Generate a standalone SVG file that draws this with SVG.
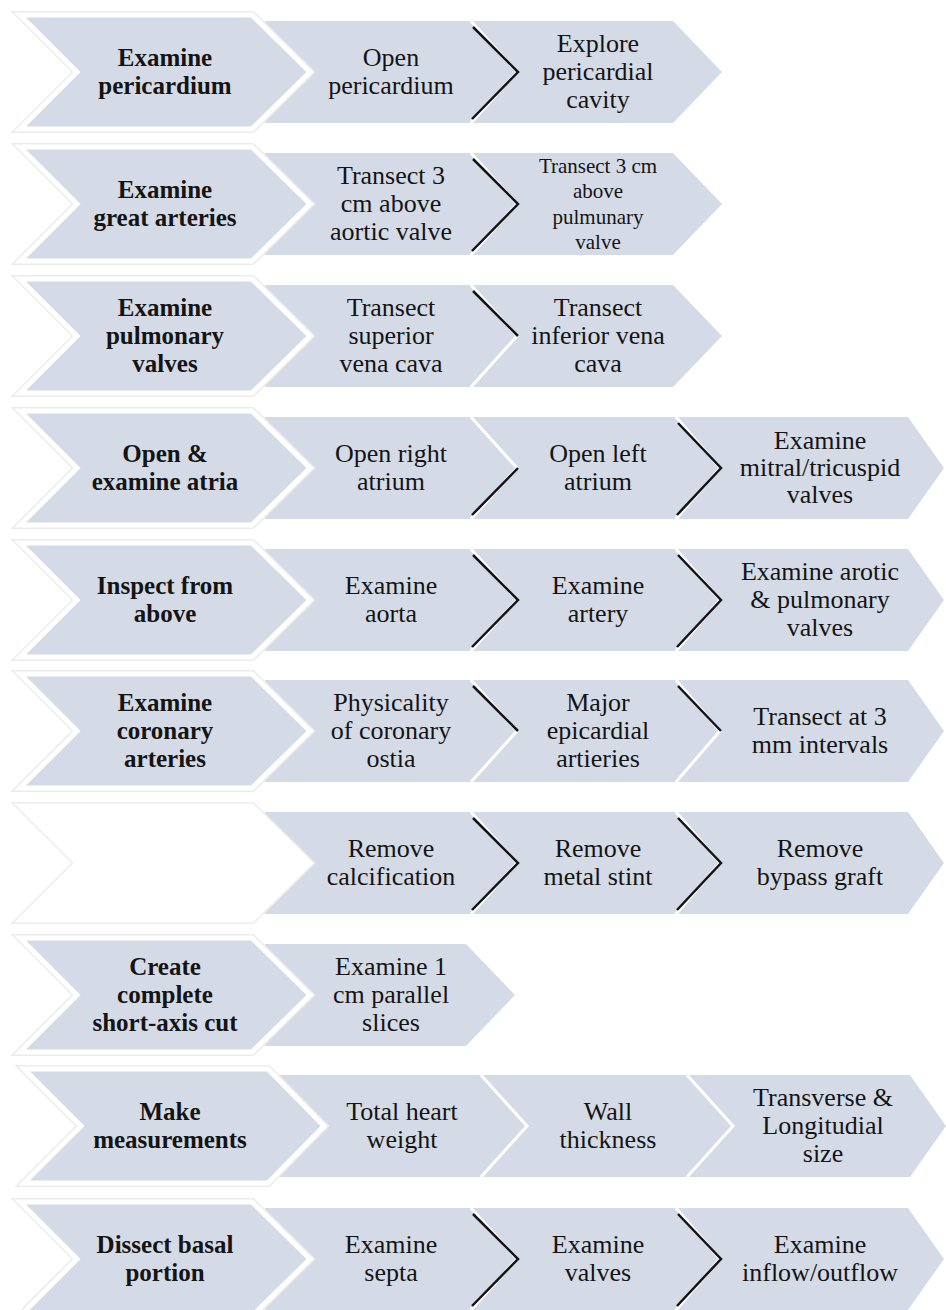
<svg xmlns="http://www.w3.org/2000/svg" width="946" height="1310" viewBox="0 0 946 1310">
  <style>
    .band { fill: #d5dbe6; }
    .head-shadow { fill: none; stroke: #ececec; stroke-width: 8; stroke-linejoin: miter; }
    .head { fill: #d5dbe6; stroke: #ffffff; stroke-width: 5; stroke-linejoin: miter; }
    .head-empty { fill: #ffffff; stroke: #ffffff; stroke-width: 5; }
    .gap { fill: none; stroke: #ffffff; stroke-width: 3; }
    .sep { fill: none; stroke: #141414; stroke-width: 2.5; }
    .lbl { font-family: "Liberation Serif", "Times New Roman", "DejaVu Serif", serif; fill: #141414; text-anchor: middle; }
    .b { font-weight: bold; font-size: 25px; }
    .t { font-size: 26px; }
    .s { font-size: 21px; }
  </style>

  <rect width="946" height="1310" fill="#ffffff"/>

  <!-- step bands (light blue-grey arrows behind the headings) -->
  <g id="bands">
    <polygon class="band" points="265,21 673,21 722,72 673,123 265,123"/>
    <polygon class="band" points="265,153 673,153 722,204 673,255 265,255"/>
    <polygon class="band" points="265,285 673,285 722,336 673,387 265,387"/>
    <polygon class="band" points="265,417 908,417 944,468 908,519 265,519"/>
    <polygon class="band" points="265,549 908,549 944,600 908,651 265,651"/>
    <polygon class="band" points="265,680 908,680 944,731 908,782 265,782"/>
    <polygon class="band" points="265,812 908,812 944,863 908,914 265,914"/>
    <polygon class="band" points="265,944 466,944 515,995 466,1046 265,1046"/>
    <polygon class="band" points="275,1075 910,1075 946,1126 910,1177 275,1177"/>
    <polygon class="band" points="265,1208 908,1208 944,1259 908,1310 265,1310"/>
  </g>

  <!-- connectors: white seams between steps, black chevron marks over them -->
  <g id="connectors">
    <polyline class="gap" points="471,21 517,72 471,123"/>
    <polyline class="gap" points="471,153 517,204 471,255"/>
    <polyline class="gap" points="471,285 517,336 471,387"/>
    <polyline class="gap" points="471,417 517,468 471,519"/>
    <polyline class="gap" points="676,417 720,468 676,519"/>
    <polyline class="gap" points="471,549 517,600 471,651"/>
    <polyline class="gap" points="676,549 720,600 676,651"/>
    <polyline class="gap" points="471,680 517,731 471,782"/>
    <polyline class="gap" points="676,680 720,731 676,782"/>
    <polyline class="gap" points="471,812 517,863 471,914"/>
    <polyline class="gap" points="676,812 720,863 676,914"/>
    <polyline class="gap" points="481,1075 527,1126 481,1177"/>
    <polyline class="gap" points="687,1075 733,1126 687,1177"/>
    <polyline class="gap" points="471,1208 517,1259 471,1310"/>
    <polyline class="gap" points="676,1208 720,1259 676,1310"/>

    <polyline class="sep" points="473,27 518,72 472,119"/>
    <polyline class="sep" points="473,159 518,204 472,251"/>
    <polyline class="sep" points="473,291 518,336"/>
    <polyline class="sep" points="518,468 472,515"/>
    <polyline class="sep" points="678,423 721,468 677,515"/>
    <polyline class="sep" points="473,555 518,600 472,647"/>
    <polyline class="sep" points="678,555 721,600 677,647"/>
    <polyline class="sep" points="473,686 518,731"/>
    <polyline class="sep" points="678,686 721,731"/>
    <polyline class="sep" points="473,818 518,863 472,910"/>
    <polyline class="sep" points="678,818 721,863 677,910"/>
    <polyline class="sep" points="473,1214 518,1259 472,1306"/>
    <polyline class="sep" points="678,1214 721,1259 677,1306"/>
  </g>

  <!-- row 1 -->
  <g id="examine-pericardium">
    <polygon class="head-shadow" points="20,15 252,15 310,72 252,129 20,129 77,72"/>
    <polygon class="head" points="20,15 252,15 310,72 252,129 20,129 77,72"/>
    <text class="lbl b"><tspan x="165" y="66">Examine</tspan><tspan x="165" y="94">pericardium</tspan></text>
  </g>
  <g id="open-pericardium">
    <text class="lbl t"><tspan x="391" y="66">Open</tspan><tspan x="391" y="94">pericardium</tspan></text>
  </g>
  <g id="explore-cavity">
    <text class="lbl t"><tspan x="598" y="52">Explore</tspan><tspan x="598" y="80">pericardial</tspan><tspan x="598" y="108">cavity</tspan></text>
  </g>

  <!-- row 2 -->
  <g id="examine-great-arteries">
    <polygon class="head-shadow" points="20,147 252,147 310,204 252,261 20,261 77,204"/>
    <polygon class="head" points="20,147 252,147 310,204 252,261 20,261 77,204"/>
    <text class="lbl b"><tspan x="165" y="198">Examine</tspan><tspan x="165" y="226">great arteries</tspan></text>
  </g>
  <g id="transect-aortic">
    <text class="lbl t"><tspan x="391" y="184">Transect 3</tspan><tspan x="391" y="212">cm above</tspan><tspan x="391" y="240">aortic valve</tspan></text>
  </g>
  <g id="transect-pulmonary">
    <text class="lbl s"><tspan x="598" y="173">Transect 3 cm</tspan><tspan x="598" y="198">above</tspan><tspan x="598" y="224">pulmunary</tspan><tspan x="598" y="249">valve</tspan></text>
  </g>

  <!-- row 3 -->
  <g id="examine-pulmonary-valves">
    <polygon class="head-shadow" points="20,279 252,279 310,336 252,393 20,393 77,336"/>
    <polygon class="head" points="20,279 252,279 310,336 252,393 20,393 77,336"/>
    <text class="lbl b"><tspan x="165" y="316">Examine</tspan><tspan x="165" y="344">pulmonary</tspan><tspan x="165" y="372">valves</tspan></text>
  </g>
  <g id="transect-svc">
    <text class="lbl t"><tspan x="391" y="316">Transect</tspan><tspan x="391" y="344">superior</tspan><tspan x="391" y="372">vena cava</tspan></text>
  </g>
  <g id="transect-ivc">
    <text class="lbl t"><tspan x="598" y="316">Transect</tspan><tspan x="598" y="344">inferior vena</tspan><tspan x="598" y="372">cava</tspan></text>
  </g>

  <!-- row 4 -->
  <g id="open-examine-atria">
    <polygon class="head-shadow" points="20,411 252,411 310,468 252,525 20,525 77,468"/>
    <polygon class="head" points="20,411 252,411 310,468 252,525 20,525 77,468"/>
    <text class="lbl b"><tspan x="165" y="462">Open &amp;</tspan><tspan x="165" y="490">examine atria</tspan></text>
  </g>
  <g id="open-right-atrium">
    <text class="lbl t"><tspan x="391" y="462">Open right</tspan><tspan x="391" y="490">atrium</tspan></text>
  </g>
  <g id="open-left-atrium">
    <text class="lbl t"><tspan x="598" y="462">Open left</tspan><tspan x="598" y="490">atrium</tspan></text>
  </g>
  <g id="examine-av-valves">
    <text class="lbl t"><tspan x="820" y="449">Examine</tspan><tspan x="820" y="476">mitral/tricuspid</tspan><tspan x="820" y="503">valves</tspan></text>
  </g>

  <!-- row 5 -->
  <g id="inspect-from-above">
    <polygon class="head-shadow" points="20,543 252,543 310,600 252,657 20,657 77,600"/>
    <polygon class="head" points="20,543 252,543 310,600 252,657 20,657 77,600"/>
    <text class="lbl b"><tspan x="165" y="594">Inspect from</tspan><tspan x="165" y="622">above</tspan></text>
  </g>
  <g id="examine-aorta">
    <text class="lbl t"><tspan x="391" y="594">Examine</tspan><tspan x="391" y="622">aorta</tspan></text>
  </g>
  <g id="examine-artery">
    <text class="lbl t"><tspan x="598" y="594">Examine</tspan><tspan x="598" y="622">artery</tspan></text>
  </g>
  <g id="examine-semilunar-valves">
    <text class="lbl t"><tspan x="820" y="580">Examine arotic</tspan><tspan x="820" y="608">&amp; pulmonary</tspan><tspan x="820" y="636">valves</tspan></text>
  </g>

  <!-- row 6 -->
  <g id="examine-coronary-arteries">
    <polygon class="head-shadow" points="20,674 252,674 310,731 252,788 20,788 77,731"/>
    <polygon class="head" points="20,674 252,674 310,731 252,788 20,788 77,731"/>
    <text class="lbl b"><tspan x="165" y="711">Examine</tspan><tspan x="165" y="739">coronary</tspan><tspan x="165" y="767">arteries</tspan></text>
  </g>
  <g id="coronary-ostia">
    <text class="lbl t"><tspan x="391" y="711">Physicality</tspan><tspan x="391" y="739">of coronary</tspan><tspan x="391" y="767">ostia</tspan></text>
  </g>
  <g id="epicardial-arteries">
    <text class="lbl t"><tspan x="598" y="711">Major</tspan><tspan x="598" y="739">epicardial</tspan><tspan x="598" y="767">artieries</tspan></text>
  </g>
  <g id="transect-intervals">
    <text class="lbl t"><tspan x="820" y="725">Transect at 3</tspan><tspan x="820" y="753">mm intervals</tspan></text>
  </g>

  <!-- row 7 -->
  <g id="blank-step">
    <polygon class="head-shadow" points="20,806 252,806 310,863 252,920 20,920 77,863"/>
    <polygon class="head-empty" points="20,806 252,806 310,863 252,920 20,920 77,863"/>
  </g>
  <g id="remove-calcification">
    <text class="lbl t"><tspan x="391" y="857">Remove</tspan><tspan x="391" y="885">calcification</tspan></text>
  </g>
  <g id="remove-stint">
    <text class="lbl t"><tspan x="598" y="857">Remove</tspan><tspan x="598" y="885">metal stint</tspan></text>
  </g>
  <g id="remove-graft">
    <text class="lbl t"><tspan x="820" y="857">Remove</tspan><tspan x="820" y="885">bypass graft</tspan></text>
  </g>

  <!-- row 8 -->
  <g id="short-axis-cut">
    <polygon class="head-shadow" points="20,938 252,938 310,995 252,1052 20,1052 77,995"/>
    <polygon class="head" points="20,938 252,938 310,995 252,1052 20,1052 77,995"/>
    <text class="lbl b"><tspan x="165" y="975">Create</tspan><tspan x="165" y="1003">complete</tspan><tspan x="165" y="1031">short-axis cut</tspan></text>
  </g>
  <g id="parallel-slices">
    <text class="lbl t"><tspan x="391" y="975">Examine 1</tspan><tspan x="391" y="1003">cm parallel</tspan><tspan x="391" y="1031">slices</tspan></text>
  </g>

  <!-- row 9 -->
  <g id="make-measurements">
    <polygon class="head-shadow" points="24,1069 268,1069 324,1126 268,1183 24,1183 81,1126"/>
    <polygon class="head" points="24,1069 268,1069 324,1126 268,1183 24,1183 81,1126"/>
    <text class="lbl b"><tspan x="170" y="1120">Make</tspan><tspan x="170" y="1148">measurements</tspan></text>
  </g>
  <g id="heart-weight">
    <text class="lbl t"><tspan x="402" y="1120">Total heart</tspan><tspan x="402" y="1148">weight</tspan></text>
  </g>
  <g id="wall-thickness">
    <text class="lbl t"><tspan x="608" y="1120">Wall</tspan><tspan x="608" y="1148">thickness</tspan></text>
  </g>
  <g id="heart-size">
    <text class="lbl t"><tspan x="823" y="1106">Transverse &amp;</tspan><tspan x="823" y="1134">Longitudial</tspan><tspan x="823" y="1162">size</tspan></text>
  </g>

  <!-- row 10 -->
  <g id="dissect-basal-portion">
    <polygon class="head-shadow" points="20,1202 252,1202 310,1259 252,1316 20,1316 77,1259"/>
    <polygon class="head" points="20,1202 252,1202 310,1259 252,1316 20,1316 77,1259"/>
    <text class="lbl b"><tspan x="165" y="1253">Dissect basal</tspan><tspan x="165" y="1281">portion</tspan></text>
  </g>
  <g id="examine-septa">
    <text class="lbl t"><tspan x="391" y="1253">Examine</tspan><tspan x="391" y="1281">septa</tspan></text>
  </g>
  <g id="examine-valves">
    <text class="lbl t"><tspan x="598" y="1253">Examine</tspan><tspan x="598" y="1281">valves</tspan></text>
  </g>
  <g id="examine-flow">
    <text class="lbl t"><tspan x="820" y="1253">Examine</tspan><tspan x="820" y="1281">inflow/outflow</tspan></text>
  </g>
</svg>
